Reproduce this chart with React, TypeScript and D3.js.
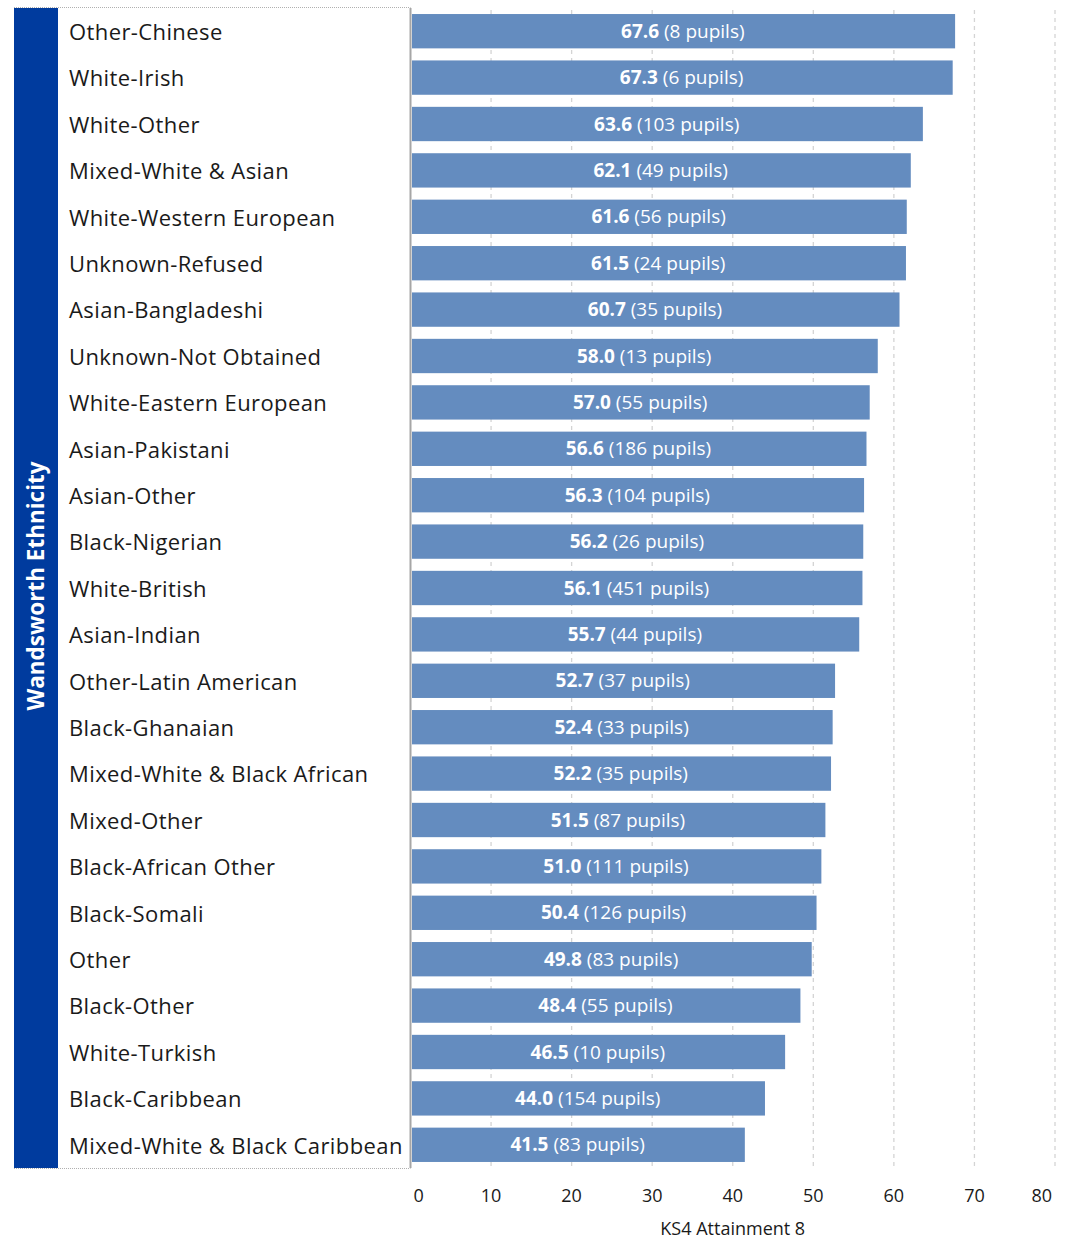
import React from "react";
import * as d3 from "d3";

const categories = [
  "Other-Chinese", "White-Irish", "White-Other", "Mixed-White & Asian", "White-Western European",
  "Unknown-Refused", "Asian-Bangladeshi", "Unknown-Not Obtained", "White-Eastern European",
  "Asian-Pakistani", "Asian-Other", "Black-Nigerian", "White-British", "Asian-Indian",
  "Other-Latin American", "Black-Ghanaian", "Mixed-White & Black African", "Mixed-Other",
  "Black-African Other", "Black-Somali", "Other", "Black-Other", "White-Turkish",
  "Black-Caribbean", "Mixed-White & Black Caribbean",
];
const attainment = [67.6, 67.3, 63.6, 62.1, 61.6, 61.5, 60.7, 58.0, 57.0, 56.6, 56.3, 56.2, 56.1, 55.7, 52.7, 52.4, 52.2, 51.5, 51.0, 50.4, 49.8, 48.4, 46.5, 44.0, 41.5];
const pupils = [8, 6, 103, 49, 56, 24, 35, 13, 55, 186, 104, 26, 451, 44, 37, 33, 35, 87, 111, 126, 83, 55, 10, 154, 83];
const xTicks = [0, 10, 20, 30, 40, 50, 60, 70, 80];
const axisTitle = "KS4 Attainment 8";
const groupTitle = "Wandsworth Ethnicity";

const W = 1068;
const H = 1240;
const FONT = "'Open Sans', 'Noto Sans', sans-serif";

export default function App() {
  const top = 8;
  const bottom = 1168;
  const x0 = 410.5;
  const x1 = 1055;
  const x = d3.scaleLinear().domain([0, 80]).range([x0, x1]);
  const y = d3.scaleBand<string>().domain(categories).range([top, bottom]).paddingInner(0.26).paddingOuter(0.13);
  const bandL = 14;
  const bandR = 58;

  return (
    <svg width={W} height={H} style={{ position: "absolute", left: 0, top: 0, background: "#fff" }} fontFamily={FONT}>
      {/* left title band */}
      <rect x={bandL} y={top} width={bandR - bandL} height={bottom - top} fill="#003b9e" />
      <text
        transform={`translate(${(bandL + bandR) / 2 + 8},${(top + bottom) / 2 - 2}) rotate(-90)`}
        textAnchor="middle"
        fill="#fff"
        fontWeight={700}
        fontSize={22.5}
      >
        {groupTitle}
      </text>
      {/* dotted borders */}
      <line x1={bandL} x2={x0} y1={top - 0.5} y2={top - 0.5} stroke="#b0b0b0" strokeDasharray="1,1" />
      <line x1={bandL} x2={x0} y1={bottom + 0.5} y2={bottom + 0.5} stroke="#b0b0b0" strokeDasharray="1,1" />

      {/* gridlines */}
      {xTicks.slice(1).map((t) => (
        <line key={t} x1={x(t)} x2={x(t)} y1={top + 2} y2={bottom} stroke="#d4d4d4" strokeWidth={1.3} strokeDasharray="4,4" />
      ))}

      {/* bars */}
      {categories.map((c, i) => (
        <rect key={c} x={x(0) + 1.5} y={y(c)} width={x(attainment[i]) - x(0) - 1.5} height={y.bandwidth()} fill="#648cbf" />
      ))}

      {/* axis line */}
      <line x1={x0} x2={x0} y1={top} y2={bottom} stroke="#a6a6a6" strokeWidth={2} />

      {/* category labels */}
      {categories.map((c) => (
        <text key={c} x={69} y={(y(c) as number) + y.bandwidth() / 2 + 1} dy="0.35em" fontSize={22} letterSpacing={0.4} fill="#1a1a1a">
          {c}
        </text>
      ))}

      {/* value labels */}
      {categories.map((c, i) => (
        <text
          key={c}
          x={(x(0) + x(attainment[i])) / 2}
          y={(y(c) as number) + y.bandwidth() / 2}
          dy="0.35em"
          textAnchor="middle"
          fontSize={19}
          fill="#fff"
        >
          <tspan fontWeight={700}>{attainment[i].toFixed(1)}</tspan>
          <tspan> ({pupils[i]} pupils)</tspan>
        </text>
      ))}

      {/* tick labels */}
      {xTicks.map((t, i) => (
        <text
          key={t}
          x={i === 0 ? x(t) + 3 : i === xTicks.length - 1 ? x(t) - 3 : x(t)}
          y={1196}
          dy="0.35em"
          textAnchor={i === 0 ? "start" : i === xTicks.length - 1 ? "end" : "middle"}
          fontSize={18}
          fill="#1a1a1a"
        >
          {t}
        </text>
      ))}
      <text x={(x0 + x1) / 2} y={1229} dy="0.35em" textAnchor="middle" fontSize={18} fill="#1a1a1a">
        {axisTitle}
      </text>
    </svg>
  );
}
